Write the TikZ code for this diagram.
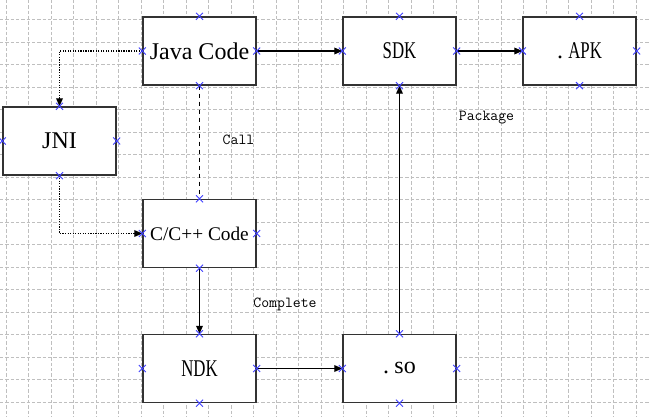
\documentclass[tikz,border=0pt]{standalone}
\usepackage{fontspec}
\setmainfont{Liberation Serif}
\usepackage{tikz}
\usetikzlibrary{arrows.meta,shapes.misc}

\newcommand{\cond}[1]{\scalebox{0.7}[1]{#1}}

\begin{document}
\begin{tikzpicture}
	[x=0.75pt, y=-0.75pt,
	 box/.style={draw=black!80, line width=1pt, fill=white, minimum width=84.75pt, minimum height=51pt, inner sep=0pt, font=\fontsize{18}{20}\selectfont},
	 tag/.style={font=\ttfamily\fontsize{11.5}{13}\selectfont, inner sep=0pt},
	 xmark/.style={cross out, draw=blue!75, line width=0.7pt, minimum size=4.5pt, inner sep=0pt},
	 gridline/.style={gray!50, line width=0.5pt, dash pattern=on 2.5pt off 1.5pt},
	 >={Triangle[length=6pt,width=5pt]}]

	\useasboundingbox (0,0) rectangle (650,417);
	\fill[white] (0,0) rectangle (650,417);

	% grid
	\foreach \i in {0,...,28}
		\draw[gridline] (6+22.5*\i,0) -- (6+22.5*\i,417);
	\foreach \j in {0,...,17}
		\draw[gridline] (0,19.5+22.5*\j) -- (650,19.5+22.5*\j);

	% boxes
	\node[box] (java) at (199.5,51) {Java Code};
	\node[box] (jni) at (59.5,141) {JNI};
	\node[box, font=\fontsize{14.5}{16}\selectfont] (cpp) at (199.5,233.5) {C/C++ Code};
	\node[box] (ndk) at (199.5,368.5) {\cond{NDK}};
	\node[box] (so) at (399.5,368.5) {.\kern4pt so};
	\node[box] (sdk) at (399.5,51) {\cond{SDK}};
	\node[box] (apk) at (579.5,51) {.\kern4pt\cond{APK}};

	% labels
	\node[tag] (call) at (238.5,140) {Call};
	\node[tag] (package) at (486.5,118) {Package};
	\node[tag] (complete) at (285,304) {Complete};

	% connectors
	\draw[densely dotted, line width=0.9pt, ->] (java.west) -| (jni.north);
	\draw[densely dotted, line width=0.9pt, ->] (jni.south) |- (cpp.west);
	\draw[dashed, line width=0.9pt] (java.south) -- (cpp.north);
	\draw[line width=0.9pt, ->] (java) -- (sdk);
	\draw[line width=0.9pt, ->] (sdk) -- (apk);
	\draw[line width=0.9pt, ->] (cpp) -- (ndk);
	\draw[line width=0.9pt, ->] (ndk) -- (so);
	\draw[line width=0.9pt, ->] (so) -- (sdk);

	% anchor marks
	\foreach \n in {java,jni,cpp,ndk,so,sdk,apk}
		\foreach \a in {north,south,east,west}
			\node[xmark] (\n-\a) at (\n.\a) {};

\end{tikzpicture}
\end{document}
